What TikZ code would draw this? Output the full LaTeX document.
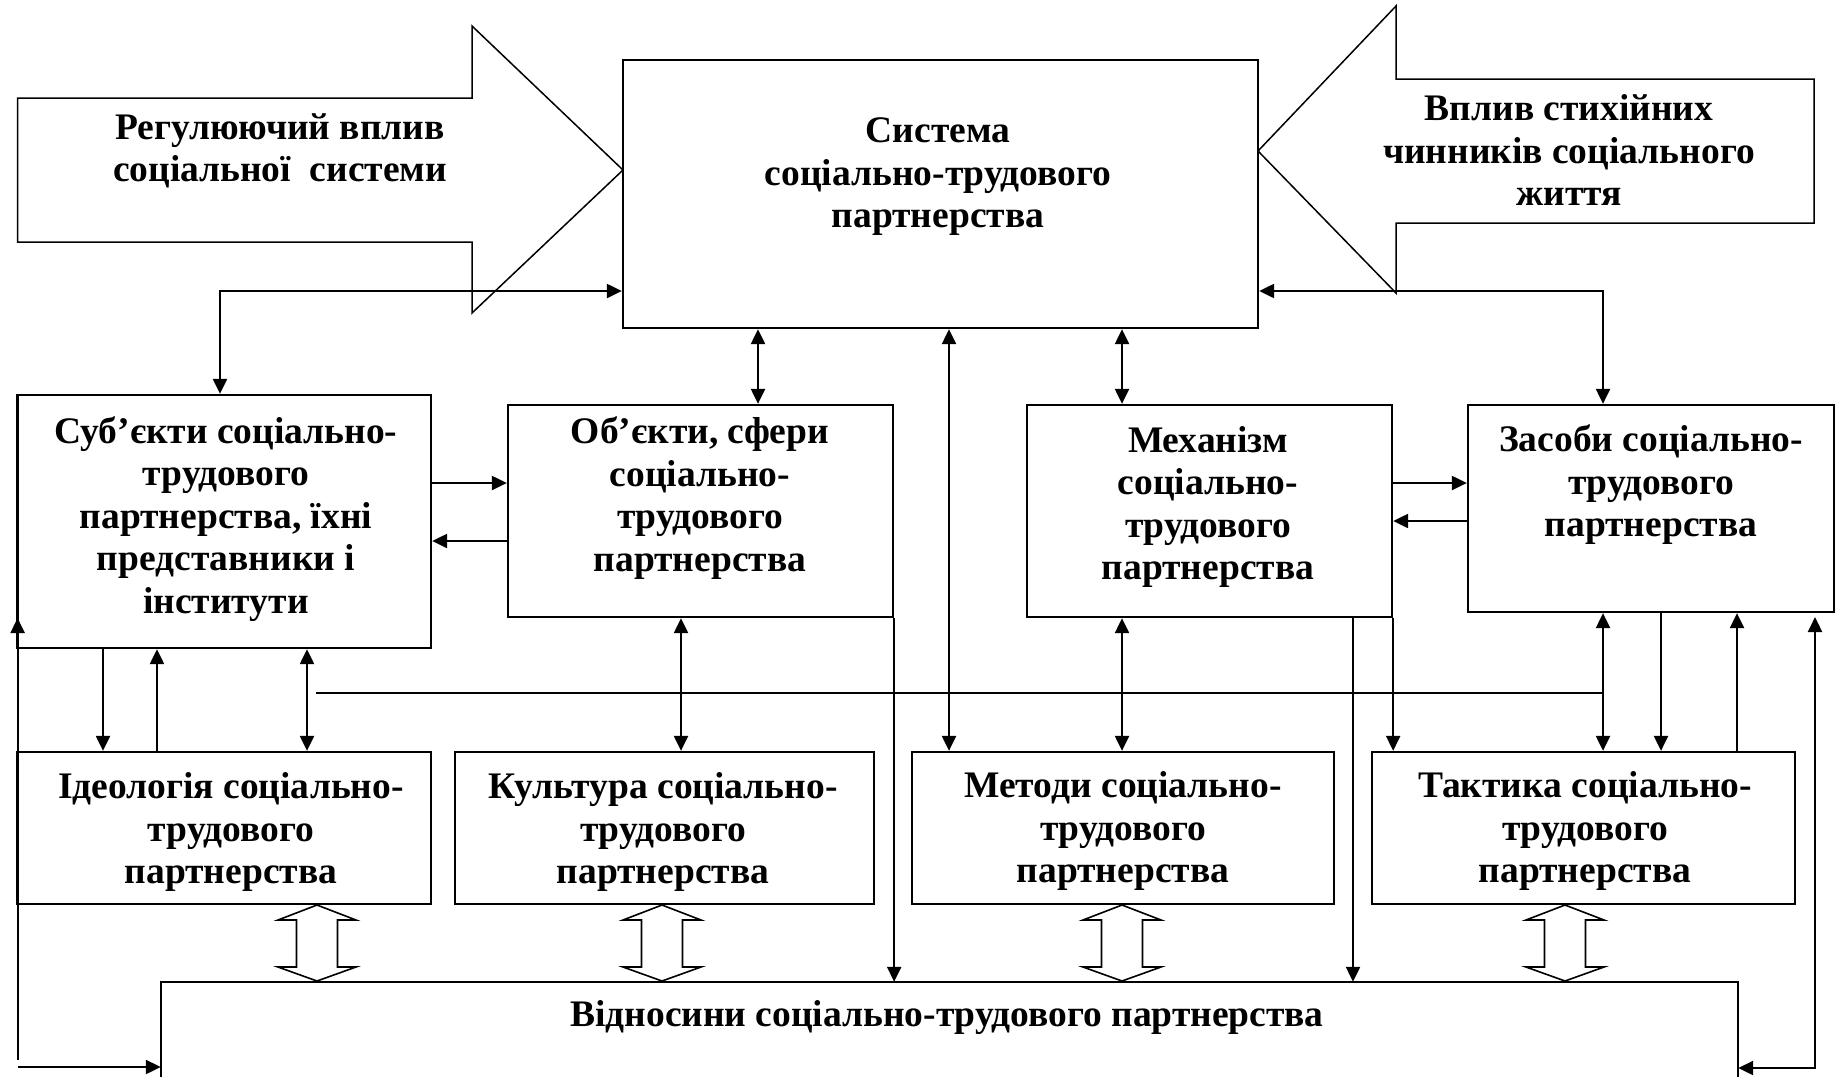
\documentclass[tikz,border=0pt]{standalone}
\usepackage{fontspec}
\setmainfont{Liberation Serif}
\usetikzlibrary{arrows.meta}
\begin{document}
\begin{tikzpicture}[x=1pt,y=-1pt,
  >={Triangle[length=15pt,width=14pt]},
  box/.style={draw=black, line width=2.3pt, inner sep=0pt},
  txt/.style={font=\fontsize{37.5}{42.5}\selectfont\bfseries, align=center, inner sep=0pt},
  conn/.style={line width=2.2pt},
  thinline/.style={line width=1.7pt},
  bigarrow/.style={draw=black, line width=1.5pt, line join=miter},
  dbl/.pic={
    \draw[line width=1.6pt, line join=miter]
      (0,0) -- (39,15) -- (20.5,15) -- (20.5,62) -- (39,62) -- (0,76)
      -- (-39,62) -- (-20.5,62) -- (-20.5,15) -- (-39,15) -- cycle;
  }
]
\useasboundingbox (0,0) rectangle (1838,1077);

% big input arrows
\draw[bigarrow] (17.6,98) -- (472,98) -- (472,26) -- (623,170) -- (472,313)
  -- (472,242) -- (17.6,242) -- cycle;
\draw[bigarrow] (1258,151) -- (1396,6) -- (1396,79) -- (1814,79) -- (1814,223)
  -- (1396,223) -- (1396,293) -- cycle;
\node[txt] (tL) at (280,151) {Регулюючий вплив\\соціальної\ \ системи};
\node[txt] (tR) at (1569,150) {Вплив стихійних\\чинників соціального\\життя};

% boxes
\node[box, minimum width=635pt, minimum height=268pt] (S) at (940.5,194) {};
\node[txt] (St) at (938,177) {Система\\соціально-трудового\\партнерства};

\node[box, minimum width=413.4pt, minimum height=253pt] (A) at (224.3,521.5) {};
\node[txt] (At) at (226,519) {Суб’єкти соціально-\\трудового\\партнерства, їхні\\представники і\\інститути};

\node[box, minimum width=385pt, minimum height=212pt] (B) at (700.5,511) {};
\node[txt] (Bt) at (700,498) {Об’єкти, сфери\\соціально-\\трудового\\партнерства};

\node[box, minimum width=365pt, minimum height=212pt] (C) at (1209.5,511) {};
\node[txt] (Ct) at (1208,507) {Механізм\\соціально-\\трудового\\партнерства};

\node[box, minimum width=366pt, minimum height=207pt] (D) at (1651,508.5) {};
\node[txt] (Dt) at (1651,485) {Засоби соціально-\\трудового\\партнерства};

\node[box, minimum width=413.4pt, minimum height=152pt] (E) at (224.3,828) {};
\node[txt] (Et) at (231,832) {Ідеологія соціально-\\трудового\\партнерства};

\node[box, minimum width=419pt, minimum height=152pt] (F) at (664.5,828) {};
\node[txt] (Ft) at (663,832) {Культура соціально-\\трудового\\партнерства};

\node[box, minimum width=422pt, minimum height=152pt] (G) at (1123,828) {};
\node[txt] (Gt) at (1123,831) {Методи соціально-\\трудового\\партнерства};

\node[box, minimum width=423pt, minimum height=152pt] (H) at (1583.5,828) {};
\node[txt] (Ht) at (1585,831) {Тактика соціально-\\трудового\\партнерства};

\node[inner sep=0pt, minimum width=1577pt, minimum height=95pt] (I) at (949.5,1029.5) {};
\draw[line width=2.3pt] (I.south west) -- (I.north west) -- (I.north east) -- (I.south east);
\node[txt] (It) at (947,1018) {Відносини соціально-трудового партнерства};

% helper coordinates
\coordinate (yTop) at (0,291);
\coordinate (xAS) at (220,0);
\coordinate (xDS) at (1603,0);
\coordinate (xSB) at (758,0);
\coordinate (xSG) at (949,0);
\coordinate (xSC) at (1122,0);
\coordinate (yAB) at (0,483);
\coordinate (yBA) at (0,541);
\coordinate (yCD) at (0,483);
\coordinate (yDC) at (0,521);
\coordinate (xAE1) at (103,0);
\coordinate (xAE2) at (157,0);
\coordinate (xAE3) at (307,0);
\coordinate (xBF) at (681,0);
\coordinate (xCI) at (1353,0);
\coordinate (xDH2) at (1661,0);
\coordinate (xHD) at (1737,0);
\coordinate (yBot) at (0,1068);
\coordinate (hl) at (316,693);
\coordinate (hr) at (1603,693);
\coordinate (lfb) at (17.6,1060);
\coordinate (lft) at (17.6,618);
\coordinate (lfh) at (17.6,1067);
\coordinate (rft) at (1815,617);

% connectors top
\draw[conn,<->] (A.north -| xAS) |- (S.west |- yTop);
\draw[conn,<->] (D.north -| xDS) |- (S.east |- yTop);
\draw[conn,<->] (S.south -| xSB) -- (B.north -| xSB);
\draw[conn,<->] (S.south -| xSG) -- (G.north -| xSG);
\draw[conn,<->] (S.south -| xSC) -- (C.north -| xSC);

% horizontal between boxes
\draw[conn,->] (A.east |- yAB) -- (B.west |- yAB);
\draw[conn,->] (B.west |- yBA) -- (A.east |- yBA);
\draw[conn,->] (C.east |- yCD) -- (D.west |- yCD);
\draw[conn,->] (D.west |- yDC) -- (C.east |- yDC);

% middle verticals
\draw[conn,->] (A.south -| xAE1) -- (E.north -| xAE1);
\draw[conn,->] (E.north -| xAE2) -- (A.south -| xAE2);
\draw[conn,<->] (A.south -| xAE3) -- (E.north -| xAE3);
\draw[thinline] (hl) -- (hr);
\draw[conn,<->] (B.south -| xBF) -- (F.north -| xBF);
\draw[conn,->] (B.south east) -- (B.south east |- I.north);
\draw[conn,<->] (C.south -| xSC) -- (G.north -| xSC);
\draw[conn,->] (C.south -| xCI) -- (I.north -| xCI);
\draw[conn,->] (C.south east) -- (C.south east |- H.north);
\draw[conn,<->] (D.south -| xDS) -- (H.north -| xDS);
\draw[conn,->] (D.south -| xDH2) -- (H.north -| xDH2);
\draw[conn,->] (H.north -| xHD) -- (D.south -| xHD);

% feedback loops
\draw[conn,<->] (I.east |- yBot) -| (rft);
\draw[conn,->] (lfb) -- (lft);
\draw[conn,->] (lfh) -- (I.west |- lfh);

% hollow double arrows
\pic at (317,905) {dbl};
\pic at (662,905) {dbl};
\pic at (1122,905) {dbl};
\pic at (1565,905) {dbl};
\end{tikzpicture}
\end{document}
